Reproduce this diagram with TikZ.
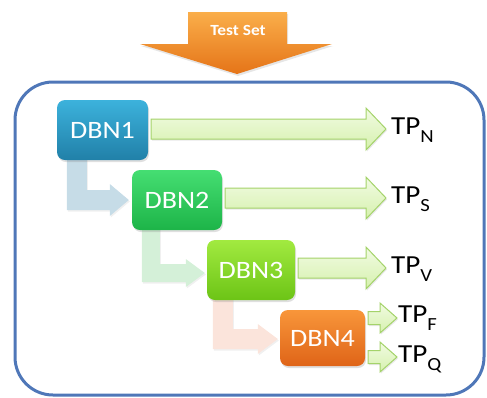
\documentclass[tikz,border=0pt]{standalone}
\usepackage{fontspec}
\setmainfont{Carlito}[FakeStretch=1.12]
\usetikzlibrary{calc,shadows}
\pgfdeclarelayer{back}
\pgfsetlayers{back,main}

\definecolor{frameblue}{HTML}{4F77B8}
\definecolor{orangetop}{HTML}{FAAE4A}
\definecolor{orangebot}{HTML}{E57418}
\definecolor{dbnAtop}{HTML}{3CB2DC}
\definecolor{dbnAbot}{HTML}{2180A8}
\definecolor{dbnBtop}{HTML}{45DE72}
\definecolor{dbnBbot}{HTML}{1DB448}
\definecolor{dbnCtop}{HTML}{A2EA40}
\definecolor{dbnCbot}{HTML}{6CC416}
\definecolor{dbnDtop}{HTML}{F8963A}
\definecolor{dbnDbot}{HTML}{DF6418}
\definecolor{arrtop}{HTML}{F1FBE2}
\definecolor{arrbot}{HTML}{D6F1AE}
\definecolor{arredge}{HTML}{A4D36A}
\definecolor{elbowA}{HTML}{C6DCE7}
\definecolor{elbowB}{HTML}{D4F0D8}
\definecolor{elbowC}{HTML}{FBE4DB}

% horizontal block arrow from a node's east side to a tip coordinate
% #1 from, #2 tip, #3 half body, #4 half head, #5 head length
\newcommand\garrow[5]{%
  \draw[garr] let \p1=(#1), \p2=(#2) in
    (\x1+3pt,\y2+#3) -- (\x2-#5,\y2+#3) -- (\x2-#5,\y2+#4) -- (\x2,\y2)
    -- (\x2-#5,\y2-#4) -- (\x2-#5,\y2-#3) -- (\x1+3pt,\y2-#3) -- cycle;}

% elbow arrow going down from a stem top and turning right to a tip
% #1 style, #2 stem top, #3 tip, #4 half stem, #5 half head, #6 head length
\newcommand\elbow[6]{%
  \fill[#1] let \p1=(#2), \p2=(#3) in
    (\x1-#4,\y1) -- (\x1-#4,\y2-#4) -- (\x2-#6,\y2-#4) -- (\x2-#6,\y2-#5)
    -- (\x2,\y2) -- (\x2-#6,\y2+#5) -- (\x2-#6,\y2+#4) -- (\x1+#4,\y2+#4)
    -- (\x1+#4,\y1) -- cycle;}

\newcommand\tpsub[1]{\raisebox{-8.5pt}{\fontsize{18.5}{18.5}\selectfont #1}}

\begin{document}
\begin{tikzpicture}[x=1pt,y=-1pt,
  frame/.style={draw=frameblue, line width=3pt, rounded corners=38pt},
  dbn/.style={rounded corners=8pt, inner sep=0pt, text=white,
    font=\fontsize{25}{26}\selectfont,
    drop shadow={opacity=0.25, shadow xshift=1pt, shadow yshift=-2pt}},
  garr/.style={draw=arredge, line width=1pt, top color=arrtop, bottom color=arrbot,
    drop shadow={opacity=0.18, shadow xshift=1pt, shadow yshift=-1.5pt}},
  elb/.style={fill=#1, drop shadow={opacity=0.12, shadow xshift=1pt, shadow yshift=-1.5pt}},
  tp/.style={anchor=base west, inner sep=0pt, font=\fontsize{26}{27}\selectfont}
]
\useasboundingbox (0,0) rectangle (487,397);

% input arrow
\shade[top color=orangetop, bottom color=orangebot,
  drop shadow={opacity=0.2, shadow xshift=1pt, shadow yshift=-2pt}]
  (188,12) -- (287,12) -- (287,44) -- (332,44) -- (237,74) -- (140,44)
  -- (188,44) -- cycle;
\node[text=white, font=\bfseries\fontsize{15.5}{16}\selectfont] (testset) at (238,30) {Test Set};

% outer frame
\draw[frame] (15,82) rectangle (484,395);

% classifier boxes
\node[dbn, minimum width=91pt, minimum height=60pt, top color=dbnAtop, bottom color=dbnAbot]
  (d1) at (102.5,130) {DBN1};
\node[dbn, minimum width=90pt, minimum height=60pt, top color=dbnBtop, bottom color=dbnBbot]
  (d2) at (177,200) {DBN2};
\node[dbn, minimum width=88pt, minimum height=60pt, top color=dbnCtop, bottom color=dbnCbot]
  (d3) at (251,270) {DBN3};
\node[dbn, minimum width=85pt, minimum height=56pt, top color=dbnDtop, bottom color=dbnDbot]
  (d4) at (322.5,338) {DBN4};

% cascade elbows, kept behind the boxes
\coordinate (s1) at ($(d1.south west)+(20,-4)$);
\coordinate (e1) at ($(d2.west)+(-3,0)$);
\coordinate (s2) at ($(d2.south west)+(19,-4)$);
\coordinate (e2) at ($(d3.west)+(-2,3)$);
\coordinate (s3) at ($(d3.south west)+(16,-4)$);
\coordinate (e3) at ($(d4.west)+(-2,1)$);
\begin{pgfonlayer}{back}
\elbow{elb=elbowA}{s1}{e1}{10pt}{16pt}{19pt}
\elbow{elb=elbowB}{s2}{e2}{9pt}{14pt}{19pt}
\elbow{elb=elbowC}{s3}{e3}{10pt}{15pt}{20pt}
\end{pgfonlayer}

% outputs
\coordinate (tn) at (386,129);
\coordinate (ts) at (386,198);
\coordinate (tv) at (386,268);
\coordinate (tf) at (397,318);
\coordinate (tq) at (397,357);
\garrow{d1.east}{tn}{10pt}{21pt}{20pt}
\garrow{d2.east}{ts}{10pt}{21pt}{20pt}
\garrow{d3.east}{tv}{10pt}{21pt}{20pt}
\garrow{d4.east}{tf}{6.5pt}{15pt}{17pt}
\garrow{d4.east}{tq}{6.5pt}{15pt}{17pt}

\node[tp] (TPN) at (391,134) {TP\tpsub{N}};
\node[tp] (TPS) at (391,203) {TP\tpsub{S}};
\node[tp] (TPV) at (391,273) {TP\tpsub{V}};
\node[tp] (TPF) at (398,322) {TP\tpsub{F}};
\node[tp] (TPQ) at (398,362) {TP\tpsub{Q}};
\end{tikzpicture}
\end{document}
